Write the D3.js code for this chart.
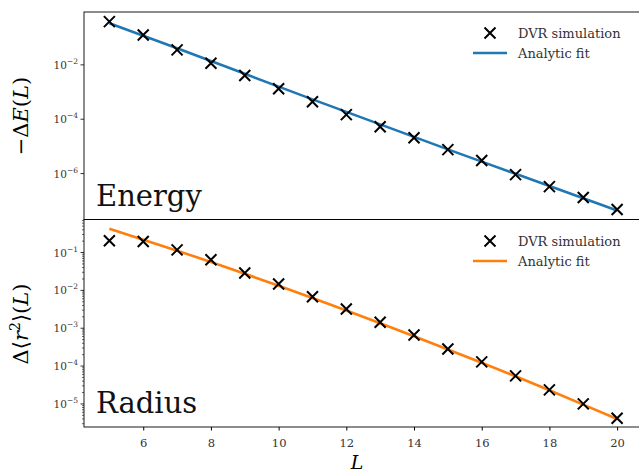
<!DOCTYPE html>
<html>
<head>
<meta charset="utf-8">
<script src="https://cdn.jsdelivr.net/npm/d3@7"></script>
<style>
  body { margin: 0; background: #fff; }
</style>
</head>
<body>
<svg id="chart" width="639" height="476" style="font-family: 'DejaVu Serif', 'Liberation Serif', serif;"></svg>
<script>
// L values shared by both panels
const sizes = [5, 6, 7, 8, 9, 10, 11, 12, 13, 14, 15, 16, 17, 18, 19, 20];

// -dE(L) (log10 values)
const energySim = [-0.41, -0.90, -1.45, -1.94, -2.39, -2.88, -3.36, -3.83, -4.28, -4.68, -5.12, -5.52, -6.04, -6.48, -6.88, -7.32];
const energyFit = [-0.47, -0.93, -1.39, -1.86, -2.33, -2.80, -3.27, -3.73, -4.19, -4.65, -5.11, -5.56, -6.01, -6.46, -6.91, -7.36];

// d<r^2>(L), log10 values
const radiusSim = [-0.69, -0.71, -0.93, -1.19, -1.54, -1.83, -2.17, -2.49, -2.84, -3.18, -3.55, -3.89, -4.26, -4.63, -5.00, -5.38];
const radiusFit = [-0.37, -0.66, -0.95, -1.25, -1.56, -1.88, -2.20, -2.53, -2.87, -3.21, -3.56, -3.91, -4.27, -4.64, -5.02, -5.40];

const xTicks = [6, 8, 10, 12, 14, 16, 18, 20];
const energyTicks = [-2, -4, -6];
const radiusTicks = [-1, -2, -3, -4, -5];

const svg = d3.select("#chart");
const left = 84, right = 642.5;
const serif = "'DejaVu Serif', 'Liberation Serif', serif";

const x = d3.scaleLinear().domain([4.25, 20.75]).range([left, right]);

// an "x" marker drawn with strokes
function cross(sel, cx, cy) {
    const s = 5.5;
    return sel.append("path")
              .attr("d", `M${cx - s},${cy - s}L${cx + s},${cy + s}M${cx - s},${cy + s}L${cx + s},${cy - s}`)
              .attr("stroke", "#000").attr("stroke-width", 2).attr("fill", "none");
}

/* ===== panels ===== */
const panels = [
    {top: 12, bottom: 219.5, lo: -7.69, hi: -0.055, sim: energySim, fit: energyFit, ticks: energyTicks,
     minor: false, color: "#1f77b4", name: "Energy", legendY: 33},
    {top: 219.5, bottom: 427, lo: -5.61, hi: -0.127, sim: radiusSim, fit: radiusFit, ticks: radiusTicks,
     minor: true, color: "#ff7f0e", name: "Radius", legendY: 241}
];

panels.forEach((p, i) => {
    const y = d3.scaleLog().domain([Math.pow(10, p.lo), Math.pow(10, p.hi)]).range([p.bottom, p.top]);
    const g = svg.append("g");

    // clip so lines stay inside the frame
    const clipId = "clip" + i;
    svg.append("clipPath").attr("id", clipId)
       .append("rect").attr("x", left).attr("y", p.top).attr("width", right - left).attr("height", p.bottom - p.top);

    // minor ticks
    if (p.minor) {
        const minors = [];
        for (let e = Math.floor(p.lo); e <= Math.ceil(p.hi); e++) {
            for (let m = 2; m <= 9; m++) {
                const v = m * Math.pow(10, e);
                if (Math.log10(v) >= p.lo && Math.log10(v) <= p.hi) minors.push(v);
            }
        }
        g.selectAll(".minor").data(minors).join("line")
         .attr("x1", left - 2).attr("x2", left)
         .attr("y1", d => y(d)).attr("y2", d => y(d))
         .attr("stroke", "#000").attr("stroke-width", 0.6);
    }

    // major ticks and labels
    const majors = g.selectAll(".major").data(p.ticks).join("g")
                    .attr("transform", d => `translate(0,${y(Math.pow(10, d))})`);
    majors.append("line").attr("x1", left - 3.5).attr("x2", left)
          .attr("stroke", "#000").attr("stroke-width", 0.8);
    const lbl = majors.append("text").attr("x", left - 6).attr("y", 4)
                      .attr("text-anchor", "end").attr("fill", "#333").style("font-size", "10.5px");
    lbl.append("tspan").text("10");
    lbl.append("tspan").attr("dy", -5).style("font-size", "7.5px").text(d => "\u2212" + Math.abs(d));

    // fit line
    const line = d3.line().x((d, j) => x(sizes[j])).y(d => y(Math.pow(10, d)));
    g.append("path").datum(p.fit)
     .attr("d", line)
     .attr("clip-path", `url(#${clipId})`)
     .attr("fill", "none").attr("stroke", p.color).attr("stroke-width", 2.6);

    // simulation markers
    p.sim.forEach((d, j) => cross(g, x(sizes[j]), y(Math.pow(10, d))));

    // panel title
    g.append("text").attr("x", 96).attr("y", p.bottom - 14).attr("fill", "#111")
     .style("font-size", "29px").text(p.name);

    // legend
    const lg = g.append("g").attr("transform", `translate(0,${p.legendY})`);
    cross(lg, 490, 0);
    lg.append("line").attr("x1", 473).attr("x2", 507).attr("y1", 20).attr("y2", 20)
      .attr("stroke", p.color).attr("stroke-width", 2.6);
    lg.append("text").attr("x", 518).attr("y", 4.5).attr("fill", "#333").style("font-size", "13px").text("DVR simulation");
    lg.append("text").attr("x", 518).attr("y", 25).attr("fill", "#333").style("font-size", "13px").text("Analytic fit");

    // frame
    g.append("rect").attr("x", left).attr("y", p.top).attr("width", right - left).attr("height", p.bottom - p.top)
     .attr("fill", "none").attr("stroke", "#000").attr("stroke-width", 0.9);
});

/* ===== x axis ===== */
const xAxis = svg.append("g").attr("transform", "translate(0,427)")
                 .call(d3.axisBottom(x).tickValues(xTicks).tickSize(3.5).tickPadding(8));
xAxis.attr("font-family", null);
xAxis.select(".domain").remove();
xAxis.selectAll("text").style("font-size", "11.5px").style("font-family", serif).attr("fill", "#333");

svg.append("text").attr("x", 357).attr("y", 469).attr("text-anchor", "middle")
   .style("font-size", "19px").style("font-style", "italic").text("L");

/* ===== y labels ===== */
const yl1 = svg.append("text").attr("transform", "translate(28,116) rotate(-90)")
               .attr("text-anchor", "middle").style("font-size", "21px");
yl1.append("tspan").text("\u2212\u0394");
yl1.append("tspan").style("font-style", "italic").text("E");
yl1.append("tspan").text("(");
yl1.append("tspan").style("font-style", "italic").text("L");
yl1.append("tspan").text(")");

const yl2 = svg.append("text").attr("transform", "translate(28,324) rotate(-90)")
               .attr("text-anchor", "middle").style("font-size", "21px");
yl2.append("tspan").text("\u0394\u27E8");
yl2.append("tspan").style("font-style", "italic").text("r");
yl2.append("tspan").attr("dy", -8).style("font-size", "14px").text("2");
yl2.append("tspan").attr("dy", 8).text("\u27E9(");
yl2.append("tspan").style("font-style", "italic").text("L");
yl2.append("tspan").text(")");
</script>
</body>
</html>
